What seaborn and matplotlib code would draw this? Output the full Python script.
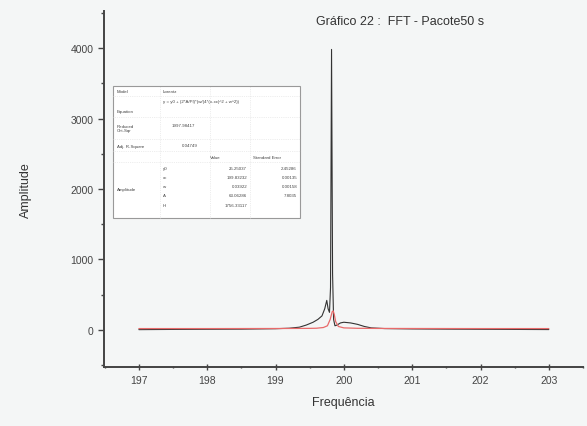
import matplotlib
matplotlib.use("Agg")
import matplotlib.pyplot as plt
from matplotlib.ticker import MultipleLocator
import pandas as pd
import seaborn as sns

# FFT spectrum (black) and Lorentz fit (red)
freq = [197.0, 197.5, 198.0, 198.5, 199.0, 199.2, 199.35, 199.45, 199.55, 199.62,
        199.68, 199.72, 199.75, 199.77, 199.79, 199.805, 199.82, 199.835, 199.85,
        199.87, 199.9, 199.95, 200.0, 200.1, 200.2, 200.3, 200.4, 200.6, 201.0,
        201.5, 202.0, 202.5, 203.0]
amp = [5, 8, 10, 12, 18, 25, 40, 70, 110, 150,
       200, 300, 420, 300, 250, 600, 3980, 800, 150,
       60, 70, 100, 110, 100, 80, 50, 30, 20, 15,
       12, 10, 8, 6]

fit_freq = [197.0, 198.0, 199.0, 199.5, 199.6, 199.7, 199.76, 199.8, 199.83,
            199.845, 199.86, 199.88, 199.92, 200.0, 200.2, 200.5, 201.0, 202.0, 203.0]
fit_amp = [20, 20, 21, 23, 25, 35, 60, 150, 260,
           270, 220, 120, 50, 30, 24, 22, 21, 20, 20]

xticks = [197, 198, 199, 200, 201, 202, 203]
yticks = [0, 1000, 2000, 3000, 4000]

df = pd.DataFrame({"f": freq, "a": amp})
df_fit = pd.DataFrame({"f": fit_freq, "a": fit_amp})

sns.set_style("ticks")
plt.rcParams['font.family'] = ['Liberation Sans', 'DejaVu Sans']
bg = "#f4f6f6"

fig = plt.figure(figsize=(5.87, 4.27), dpi=100, facecolor=bg)
ax = fig.add_axes([104 / 587, 59 / 427, 479 / 587, 356 / 427])
ax.set_facecolor(bg)

sns.lineplot(data=df, x="f", y="a", color="#333333", lw=0.8, ax=ax)
sns.lineplot(data=df_fit, x="f", y="a", color="#e86a6a", lw=0.9, ax=ax)

ax.set_xlim(196.49, 203.5)
ax.set_ylim(-525, 4525)
ax.set_xticks(xticks)
ax.set_yticks(yticks)
ax.xaxis.set_minor_locator(MultipleLocator(0.5))
ax.yaxis.set_minor_locator(MultipleLocator(500))
ax.tick_params(which="major", length=4, width=1, labelsize=7.5, colors="#444444")
ax.tick_params(which="minor", length=2, width=1, colors="#444444")
ax.tick_params(axis="x", which="both", direction="inout")
for s in ["top", "right"]:
    ax.spines[s].set_visible(False)
for s in ["left", "bottom"]:
    ax.spines[s].set_linewidth(1.4)
    ax.spines[s].set_color("#444444")

ax.set_xlabel("Frequência", fontsize=9, color="#333333", labelpad=8)
ax.set_ylabel("Amplitude", fontsize=9, color="#333333", labelpad=28)
fig.text(400 / 587, 1 - 22 / 427, "Gráfico 22 :  FFT - Pacote50 s",
         ha="center", va="center", fontsize=9, color="#333333")

# inset results table (Origin-style)
def P(px, py):
    return ((px - 104) / 479, (368 - py) / 356)

x0, y0 = P(113, 219)
x1, y1 = P(300, 87)
ax.add_patch(plt.Rectangle((x0, y0), x1 - x0, y1 - y0, transform=ax.transAxes,
                           fill=True, fc="white", ec="#999999", lw=0.8))
for px in [160, 210, 250]:
    a, b = P(px, 87)
    _, c = P(px, 219)
    ax.plot([a, a], [c, b], transform=ax.transAxes, color="#dddddd", lw=0.5, ls=":")
for py in [97, 118, 140, 152, 163]:
    a, b = P(113, py)
    c, _ = P(300, py)
    ax.plot([a, c], [b, b], transform=ax.transAxes, color="#dddddd", lw=0.5, ls=":")

cells = [
    (117, 92, "Model", "left"),
    (163, 92, "Lorentz", "left"),
    (117, 112, "Equation", "left"),
    (163, 102, "y = y0 + (2*A/PI)*(w/(4*(x-xc)^2 + w^2))", "left"),
    (117, 129, "Reduced\nChi-Sqr", "left"),
    (172, 126, "1997.98417", "left"),
    (117, 147, "Adj. R-Square", "left"),
    (182, 146, "0.04749", "left"),
    (210, 158, "Value", "left"),
    (253, 158, "Standard Error", "left"),
    (117, 190, "Amplitude", "left"),
]
params = ["y0", "xc", "w", "A", "H"]
values = ["25.25037", "199.83232", "0.03922", "63.06286", "1756.33117"]
errors = ["2.45286", "0.00135", "0.00158", "7.8035", ""]
rows_y = [169, 178, 187, 196, 206]

for px, py, t, ha in cells:
    fx, fy = P(px, py)
    ax.text(fx, fy, t, transform=ax.transAxes, fontsize=3.2, ha=ha, va="center",
            color="#444444")
for p, v, e, py in zip(params, values, errors, rows_y):
    fx, fy = P(163, py)
    ax.text(fx, fy, p, transform=ax.transAxes, fontsize=3.2, va="center", color="#444444")
    fx, fy = P(247, py)
    ax.text(fx, fy, v, transform=ax.transAxes, fontsize=3.2, ha="right", va="center",
            color="#444444")
    fx, fy = P(297, py)
    ax.text(fx, fy, e, transform=ax.transAxes, fontsize=3.2, ha="right", va="center",
            color="#444444")

fig.savefig("out.png", dpi=100, facecolor=bg)
